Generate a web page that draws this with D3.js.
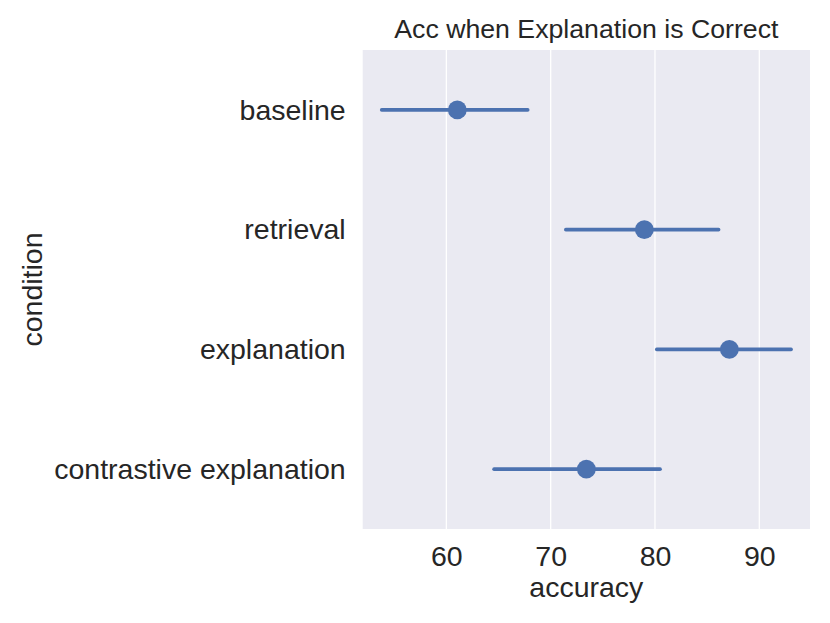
<!DOCTYPE html>
<html>
<head>
<meta charset="utf-8">
<script src="https://cdn.jsdelivr.net/npm/d3@7"></script>
<style>
  html, body { margin: 0; padding: 0; background: #fff; }
  svg text { font-family: "Liberation Sans", Arial, sans-serif; fill: #262626; }
</style>
</head>
<body>
<svg id="chart" width="830" height="623"></svg>
<script>
const conditions = ["baseline", "retrieval", "explanation", "contrastive explanation"];
const means = [61.05, 78.98, 87.13, 73.42];
const ciLow = [53.8, 71.45, 80.17, 64.57];
const ciHigh = [67.8, 86.1, 93.05, 80.49];
const xTicks = [60, 70, 80, 90];
const title = "Acc when Explanation is Correct";
const xLabel = "accuracy";
const yLabel = "condition";

const svg = d3.select("#chart");
const margin = { left: 362.7, right: 20, top: 50, bottom: 94 };
const W = 830, H = 623;
const x = d3.scaleLinear().domain([51.98, 94.86]).range([margin.left, W - margin.right]);
const y = d3.scalePoint().domain(conditions).range([margin.top, H - margin.bottom]).padding(0.5);

const color = "#4c72b0";
const fontFam = '"Liberation Sans", Arial, sans-serif';

svg.append("rect")
  .attr("x", margin.left).attr("y", margin.top)
  .attr("width", W - margin.right - margin.left)
  .attr("height", H - margin.bottom - margin.top)
  .attr("fill", "#eaeaf2");

// gridlines
svg.append("g").selectAll("line").data(xTicks).join("line")
  .attr("x1", d => x(d)).attr("x2", d => x(d))
  .attr("y1", margin.top).attr("y2", H - margin.bottom)
  .attr("stroke", "#fff").attr("stroke-width", 1.3);

// x axis
const xAxis = svg.append("g")
  .attr("transform", `translate(0,${H - margin.bottom})`)
  .call(d3.axisBottom(x).tickValues(xTicks).tickSize(0).tickPadding(17));
xAxis.select(".domain").remove();
xAxis.selectAll("text").style("font-size", "28.5px").attr("fill", "#262626")
  .style("font-family", fontFam);

// y axis
const yAxis = svg.append("g")
  .attr("transform", `translate(${margin.left},0)`)
  .call(d3.axisLeft(y).tickSize(0).tickPadding(17));
yAxis.select(".domain").remove();
yAxis.selectAll("text").style("font-size", "28.5px").attr("fill", "#262626")
  .style("font-family", fontFam);

// error bars
const data = conditions.map((c, i) => ({ c, m: means[i], lo: ciLow[i], hi: ciHigh[i] }));
svg.append("g").selectAll("line").data(data).join("line")
  .attr("x1", d => x(d.lo)).attr("x2", d => x(d.hi))
  .attr("y1", d => y(d.c)).attr("y2", d => y(d.c))
  .attr("stroke", color).attr("stroke-width", 3.6).attr("stroke-linecap", "round");

svg.append("g").selectAll("circle").data(data).join("circle")
  .attr("cx", d => x(d.m)).attr("cy", d => y(d.c)).attr("r", 9.4)
  .attr("fill", color);

// title
svg.append("text")
  .attr("x", (margin.left + W - margin.right) / 2).attr("y", 38)
  .attr("text-anchor", "middle").style("font-size", "26.7px").text(title);

// x label
svg.append("text")
  .attr("x", (margin.left + W - margin.right) / 2).attr("y", 597)
  .attr("text-anchor", "middle").style("font-size", "28.5px").text(xLabel);

// y label
svg.append("text")
  .attr("transform", `translate(41.5,${(margin.top + H - margin.bottom) / 2}) rotate(-90)`)
  .attr("text-anchor", "middle").style("font-size", "28.5px").text(yLabel);
</script>
</body>
</html>
